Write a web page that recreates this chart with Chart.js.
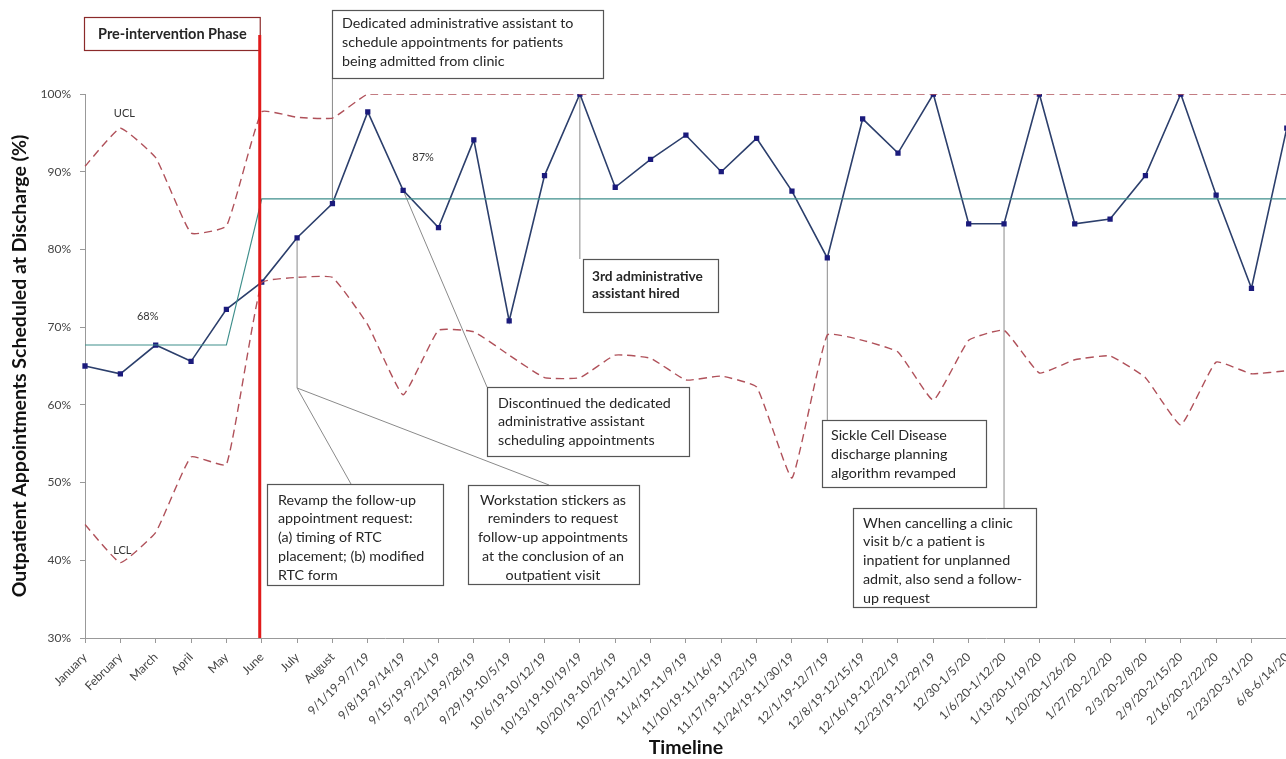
<!DOCTYPE html>
<html>
<head>
<meta charset="utf-8">
<script src="https://cdn.jsdelivr.net/npm/chart.js@4"></script>
<style>
  html,body{margin:0;padding:0;background:#fff;overflow:hidden;}
  #wrap{position:relative;width:1304px;height:759px;}
</style>
</head>
<body>
<div id="wrap"><canvas id="chart1"></canvas></div>
<script>
/* DATA */
const periods=["January","February","March","April","May","June","July","August",
  "9/1/19-9/7/19","9/8/19-9/14/19","9/15/19-9/21/19","9/22/19-9/28/19","9/29/19-10/5/19",
  "10/6/19-10/12/19","10/13/19-10/19/19","10/20/19-10/26/19","10/27/19-11/2/19",
  "11/4/19-11/9/19","11/10/19-11/16/19","11/17/19-11/23/19","11/24/19-11/30/19",
  "12/1/19-12/7/19","12/8/19-12/15/19","12/16/19-12/22/19","12/23/19-12/29/19",
  "12/30-1/5/20","1/6/20-1/12/20","1/13/20-1/19/20","1/20/20-1/26/20","1/27/20-2/2/20",
  "2/3/20-2/8/20","2/9/20-2/15/20","2/16/20-2/22/20","2/23/20-3/1/20","6/8-6/14/20"];

const scheduled=[65.0,64.0,67.7,65.6,72.3,75.8,81.5,85.9,97.7,87.6,82.8,94.1,70.8,89.5,100,
  88.0,91.6,94.7,90.0,94.3,87.5,78.9,96.8,92.4,100,83.3,83.3,100,83.3,83.9,89.5,100,87.0,75.0,95.6];

const centerLine=[67.7,67.7,67.7,67.7,67.7,86.5,86.5,86.5,86.5,86.5,86.5,86.5,86.5,86.5,86.5,
  86.5,86.5,86.5,86.5,86.5,86.5,86.5,86.5,86.5,86.5,86.5,86.5,86.5,86.5,86.5,86.5,86.5,86.5,86.5,86.5];

const ucl=[90.7,95.6,91.8,82.1,83.0,97.7,97.0,96.9,100,100,100,100,100,100,100,100,100,100,
  100,100,100,100,100,100,100,100,100,100,100,100,100,100,100,100,100];

const lcl=[44.6,39.7,43.6,53.3,52.3,75.7,76.4,76.4,70.3,61.3,69.6,69.4,66.4,63.5,63.5,66.4,
  66.0,63.2,63.7,62.3,50.6,69.0,68.3,66.8,60.6,68.3,69.6,64.1,65.8,66.3,63.5,57.4,65.5,64.0,64.4];

const yTicks=[30,40,50,60,70,80,90,100];
const phaseStart=5; // June

/* ANNOTATIONS */
const FONT="Lato";

function box(ctx,x1,y1,x2,y2,color){
  ctx.save();
  ctx.fillStyle="#fff";
  ctx.fillRect(x1,y1,x2-x1,y2-y1);
  ctx.strokeStyle=color||"#555";
  ctx.lineWidth=1.2;
  ctx.strokeRect(x1+0.5,y1+0.5,x2-x1,y2-y1);
  ctx.restore();
}
function lines(ctx,txt,x,y,lh,opt){
  ctx.save();
  ctx.fillStyle="#262626";
  ctx.font=(opt&&opt.bold?"bold ":"")+(opt&&opt.size||14.3)+"px "+FONT;
  ctx.textAlign=opt&&opt.align||"left";
  ctx.textBaseline="middle";
  txt.forEach((t,i)=>ctx.fillText(t,x,y+i*lh));
  ctx.restore();
}
function seg(ctx,pts,color,w){
  ctx.save();
  ctx.strokeStyle=color||"#8a8a8a";
  ctx.lineWidth=w||1;
  ctx.beginPath();
  ctx.moveTo(pts[0][0],pts[0][1]);
  for(let i=1;i<pts.length;i++)ctx.lineTo(pts[i][0],pts[i][1]);
  ctx.stroke();
  ctx.restore();
}

const notes={
  id:"notes",
  beforeDatasetsDraw(chart){
    const {ctx,scales:{x,y}}=chart;
    const px=i=>x.getPixelForValue(i), py=v=>y.getPixelForValue(v);
    // connectors
    seg(ctx,[[px(7),py(scheduled[7])],[px(7),78]]);
    seg(ctx,[[px(14),py(scheduled[14])],[px(14),259]]);
    seg(ctx,[[px(9),py(scheduled[9])],[487,387]]);
    seg(ctx,[[px(6),py(scheduled[6])],[px(6),388],[351,484]]);
    seg(ctx,[[px(6),388],[549,485]]);
    seg(ctx,[[px(21),py(scheduled[21])],[px(21),420]]);
    seg(ctx,[[px(26),py(scheduled[26])],[px(26),508]]);
  },
  afterDatasetsDraw(chart){
    const {ctx,chartArea,scales:{x,y}}=chart;
    const px=i=>x.getPixelForValue(i), py=v=>y.getPixelForValue(v);
    const redX=px(phaseStart)-2;

    // small labels
    ctx.save();
    ctx.fillStyle="#333";
    ctx.font="11px "+FONT;
    ctx.textAlign="center";ctx.textBaseline="middle";
    ctx.fillText("UCL",px(1)+4,py(ucl[1])-15);
    ctx.fillText("LCL",px(1)+2,py(lcl[1])-12);
    ctx.fillText("68%",px(2)-8,py(centerLine[0])-29);
    ctx.fillText("87%",px(9)+20,py(centerLine[8])-41);
    ctx.restore();

    // boxes
    box(ctx,332,10,603,78);
    lines(ctx,["Dedicated administrative assistant to","schedule appointments for patients","being admitted from clinic"],342,23,19);

    box(ctx,583,259,718,312);
    lines(ctx,["3rd administrative","assistant hired"],592,277,17,{bold:true,size:13.7});

    box(ctx,487,387,689,456);
    lines(ctx,["Discontinued the dedicated","administrative assistant","scheduling appointments"],498,403,18.5);

    box(ctx,267,484,443,585);
    lines(ctx,["Revamp the follow-up","appointment request:","(a) timing of RTC","placement; (b) modified","RTC form"],278,500,18.8);

    box(ctx,468,485,639,584);
    lines(ctx,["Workstation stickers as","reminders to request","follow-up appointments","at the conclusion of an","outpatient visit"],553,500,18.8,{align:"center"});

    box(ctx,822,420,986,487);
    lines(ctx,["Sickle Cell Disease","discharge planning","algorithm revamped"],831,435,19);

    box(ctx,853,508,1036,607);
    lines(ctx,["When cancelling a clinic","visit b/c a patient is","inpatient for unplanned","admit, also send a follow-","up request"],863,523,18.8);

    // phase box + red line
    box(ctx,chartArea.left-1,17,redX,50,"#8b2a2a");
    lines(ctx,["Pre-intervention Phase"],(chartArea.left+redX)/2,34,0,{bold:true,size:14.5,align:"center"});
    seg(ctx,[[redX,35],[redX,chartArea.bottom]],"#e01b1b",3);
  }
};

/* CHART */
new Chart(chart1,{
  type:"line",
  data:{
    labels:periods,
    datasets:[
      {data:lcl,borderColor:"#b0515a",borderWidth:1.4,borderDash:[8,5],pointRadius:0,tension:0.12,fill:false},
      {data:ucl,borderColor:"#b0515a",borderWidth:1.4,borderDash:[8,5],pointRadius:0,tension:0.12,fill:false},
      {data:centerLine,borderColor:"#3f8f8c",borderWidth:1.2,pointRadius:0,tension:0,fill:false},
      {data:scheduled,borderColor:"#2c3f6c",borderWidth:1.6,pointStyle:"rect",pointRadius:2.6,
        pointBackgroundColor:"#1b1b7c",pointBorderColor:"#1b1b7c",tension:0,fill:false}
    ]
  },
  options:{
    responsive:true,
    maintainAspectRatio:false,
    animation:false,
    layout:{padding:{top:94,right:10,left:0,bottom:0}},
    plugins:{legend:{display:false},tooltip:{enabled:false}},
    scales:{
      x:{
        offset:false,
        grid:{drawOnChartArea:false,drawTicks:true,tickLength:5,color:"#999"},
        border:{color:"#999"},
        ticks:{autoSkip:false,minRotation:45,maxRotation:45,color:"#444",font:{family:FONT,size:12},padding:7},
        title:{display:true,text:"Timeline",color:"#111",font:{family:FONT,size:19.5,weight:"bold"},padding:{top:0,bottom:0}},
        afterFit(s){s.height=121;}
      },
      y:{
        min:30,max:100,
        afterBuildTicks(s){s.ticks=yTicks.map(v=>({value:v}));},
        grid:{drawOnChartArea:false,drawTicks:true,tickLength:5,color:"#999"},
        border:{color:"#999"},
        ticks:{color:"#444",font:{family:FONT,size:12},padding:9,callback:v=>v+"%"},
        title:{display:true,text:"Outpatient Appointments Scheduled at Discharge (%)",color:"#111",
          font:{family:FONT,size:19.5,weight:"bold"},padding:{top:8,bottom:0}},
        afterFit(s){s.width=85;}
      }
    }
  },
  plugins:[notes]
});
</script>
</body>
</html>
